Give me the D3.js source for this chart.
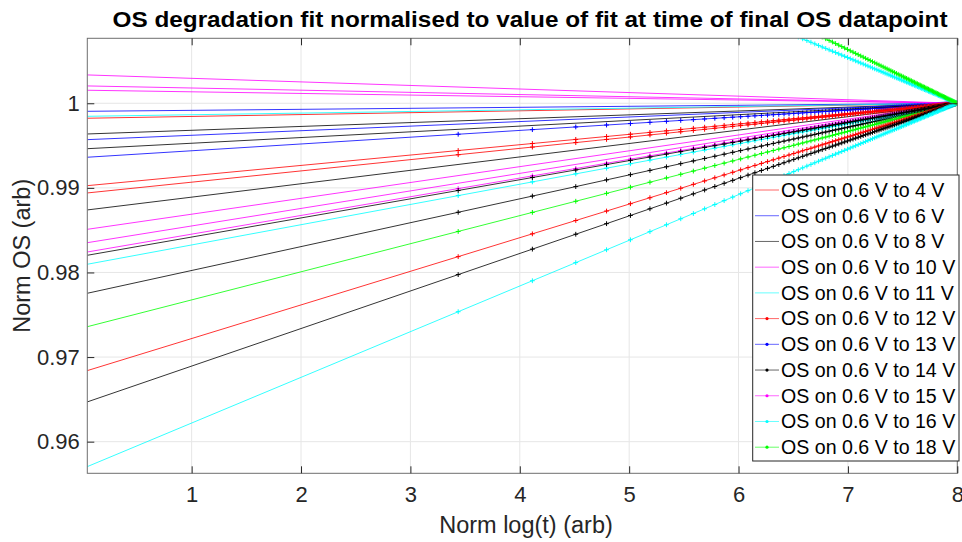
<!DOCTYPE html>
<html>
<head>
<meta charset="utf-8">
<script src="https://cdn.jsdelivr.net/npm/d3@7"></script>
<style>
  html, body { margin: 0; padding: 0; background: #fff; }
  svg { display: block; font-family: "Liberation Sans", Arial, Helvetica, sans-serif; }
</style>
</head>
<body>
<svg id="chart" width="962" height="542"></svg>
<script>
// ---------------- data ----------------
const titleText = "OS degradation fit normalised to value of fit at time of final OS datapoint";
const xLabelText = "Norm log(t) (arb)";
const yLabelText = "Norm OS (arb)";
const xTicks = [1, 2, 3, 4, 5, 6, 7, 8];
const yTicks = [0.96, 0.97, 0.98, 0.99, 1];
const yTickLabels = ["0.96", "0.97", "0.98", "0.99", "1"];
const xDomain = [0.046, 8];
const yDomain = [0.95626, 1.00768];

// final OS datapoint (all fits normalised to 1 there)
const finalX = 8;
const finalValue = 1;

// fit value at the left edge of the plot, colour, and whether datapoints are drawn
const seriesColors = [
  "#ff0000", "#0000ff", "#000000", "#ff00ff", "#00ffff",
  "#ff0000", "#0000ff", "#000000", "#ff00ff", "#00ffff", "#00ff00",
  "#0000ff", "#000000", "#ff00ff", "#ff00ff", "#000000", "#ff00ff", "#ff00ff",
  "#ff0000", "#000000", "#ff0000", "#000000", "#00ffff", "#00ffff", "#00ff00"
];
const seriesMarked = [
  false, false, false, false, false,
  true, true, true, true, true, true,
  false, false, false, false, false, false, false,
  true, true, true, true, true, true, true
];
const seriesStart = [
  0.99823, 0.99905, 0.99637, 1.00335, 0.99846,
  0.99026, 0.99362, 0.97754, 0.98242, 0.98097, 0.97359,
  0.99570, 0.99463, 1.00205, 1.00154, 0.98739, 0.98510, 0.98352,
  0.98940, 0.98203, 0.96840, 0.96470, 0.95705, 1.04287, 1.05043
];
const legendLabels = [
  "OS on 0.6 V to 4 V", "OS on 0.6 V to 6 V", "OS on 0.6 V to 8 V",
  "OS on 0.6 V to 10 V", "OS on 0.6 V to 11 V", "OS on 0.6 V to 12 V",
  "OS on 0.6 V to 13 V", "OS on 0.6 V to 14 V", "OS on 0.6 V to 15 V",
  "OS on 0.6 V to 16 V", "OS on 0.6 V to 18 V"
];
// datapoint sample indices (time steps)
const sampleTimes = [1,2,3,4,5,6,7,8,9,10,11,12,13,14,15,16,17,18,19,20,21,22,23,24,25,26,27,28,29,30,
  31,32,33,34,35,36,37,38,39,40,41,42,43,44,45,46,47,48,49,50,51,52,53,54,55,56,57,58,59,60,
  61,62,63,64,65,66,67,68,69,70,71,72,73,74,75,76,77,78,79,80,81,82,83,84,85,86,87,88,89,90,
  91,92,93,94,95,96,97,98,99,100,101,102,103,104,105,106];
const logScaleFactor = 0.9785; // Norm log(t) per natural-log unit

// ---------------- layout ----------------
const svg = d3.select("#chart");
const pL = 87.3, pR = 957.3, pT = 38.3, pB = 473.3;
const x = d3.scaleLinear().domain(xDomain).range([pL, pR]);
const y = d3.scaleLinear().domain(yDomain).range([pB, pT]);
const axisColor = "#262626";

svg.append("defs").append("clipPath").attr("id", "plotclip")
  .append("rect").attr("x", pL).attr("y", pT).attr("width", pR - pL).attr("height", pB - pT);

// grid
const grid = svg.append("g");
grid.selectAll(".gx").data(xTicks).enter().append("line")
  .attr("x1", d => x(d)).attr("x2", d => x(d)).attr("y1", pT).attr("y2", pB)
  .attr("stroke", "#e6e6e6").attr("stroke-width", 1);
grid.selectAll(".gy").data(yTicks).enter().append("line")
  .attr("y1", d => y(d)).attr("y2", d => y(d)).attr("x1", pL).attr("x2", pR)
  .attr("stroke", "#e6e6e6").attr("stroke-width", 1);

// series
const plot = svg.append("g").attr("clip-path", "url(#plotclip)");
const tFinal = sampleTimes[sampleTimes.length - 1];
const sampleX = sampleTimes.map(t => finalX + logScaleFactor * Math.log(t / tFinal));

seriesStart.forEach((s0, i) => {
  const slope = (finalValue - s0) / (finalX - xDomain[0]);
  const fit = xv => finalValue + slope * (xv - finalX);
  const line = d3.line().x(d => x(d[0])).y(d => y(d[1]));
  plot.append("path")
    .attr("d", line([[xDomain[0], fit(xDomain[0])], [finalX, fit(finalX)]]))
    .attr("fill", "none").attr("stroke", seriesColors[i]).attr("stroke-width", 0.8);
  if (seriesMarked[i]) {
    const m = 2.4;
    const pts = sampleX.map(xv => [xv, fit(xv)]);
    plot.append("path")
      .attr("d", pts.map(p => {
        const px = x(p[0]), py = y(p[1]);
        return `M${px - m},${py}H${px + m}M${px},${py - m}V${py + m}`;
      }).join(""))
      .attr("fill", "none").attr("stroke", seriesColors[i]).attr("stroke-width", 1);
  }
});

// axes box
svg.append("rect").attr("x", pL).attr("y", pT).attr("width", pR - pL).attr("height", pB - pT)
  .attr("fill", "none").attr("stroke", "#6e6e6e").attr("stroke-width", 1);

const xAxis = d3.axisBottom(x).tickValues(xTicks).tickSize(-7).tickPadding(16).tickFormat(d3.format("d"));
const gx = svg.append("g").attr("transform", `translate(0,${pB})`).call(xAxis);
const xAxisTop = d3.axisTop(x).tickValues(xTicks).tickSize(-7).tickFormat("");
const gxt = svg.append("g").attr("transform", `translate(0,${pT})`).call(xAxisTop);
const yAxis = d3.axisLeft(y).tickValues(yTicks).tickSize(-7).tickPadding(7.5)
  .tickFormat((d, i) => yTickLabels[i]);
const gy = svg.append("g").attr("transform", `translate(${pL},0)`).call(yAxis);
const yAxisRight = d3.axisRight(y).tickValues(yTicks).tickSize(-7).tickFormat("");
const gyr = svg.append("g").attr("transform", `translate(${pR},0)`).call(yAxisRight);

[gx, gxt, gy, gyr].forEach(g => {
  g.select(".domain").remove();
  g.selectAll(".tick line").attr("stroke", axisColor).attr("stroke-width", 1);
  g.selectAll("text").attr("fill", axisColor).attr("font-size", "22px")
    .attr("font-family", "'Liberation Sans', Arial, sans-serif");
});
gx.selectAll("text").attr("dy", "0.71em").attr("y", 13.5);

// labels
svg.append("text").attr("x", 526).attr("y", 533.3).attr("text-anchor", "middle")
  .attr("font-size", "23.5px").attr("fill", axisColor).text(xLabelText);
svg.append("text").attr("transform", `translate(30,${(pT + pB) / 2}) rotate(-90)`)
  .attr("text-anchor", "middle").attr("font-size", "23.5px").attr("fill", axisColor).text(yLabelText);
svg.append("text").attr("x", 530).attr("y", 27).attr("text-anchor", "middle")
  .attr("font-size", "22px").attr("font-weight", "bold").attr("fill", "#000")
  .attr("textLength", 835).attr("lengthAdjust", "spacingAndGlyphs").text(titleText);

// legend
const lg = svg.append("g");
const lgX = 752.7, lgY = 175, lgW = 206.3, lgH = 286, rowH = 25.72, row0 = 190;
lg.append("rect").attr("x", lgX).attr("y", lgY).attr("width", lgW).attr("height", lgH)
  .attr("fill", "#fff").attr("stroke", "#262626").attr("stroke-width", 1);
legendLabels.forEach((lab, i) => {
  const cy = row0 + i * rowH;
  lg.append("line").attr("x1", 755).attr("x2", 779).attr("y1", cy).attr("y2", cy)
    .attr("stroke", seriesColors[i]).attr("stroke-width", 1).attr("stroke-opacity", 0.6);
  if (seriesMarked[i]) {
    lg.append("circle").attr("cx", 767).attr("cy", cy).attr("r", 1.6).attr("fill", seriesColors[i]);
  }
  lg.append("text").attr("x", 781).attr("y", cy).attr("dy", "0.35em")
    .attr("font-size", "19.6px").attr("fill", "#000").text(lab);
});
</script>
</body>
</html>
